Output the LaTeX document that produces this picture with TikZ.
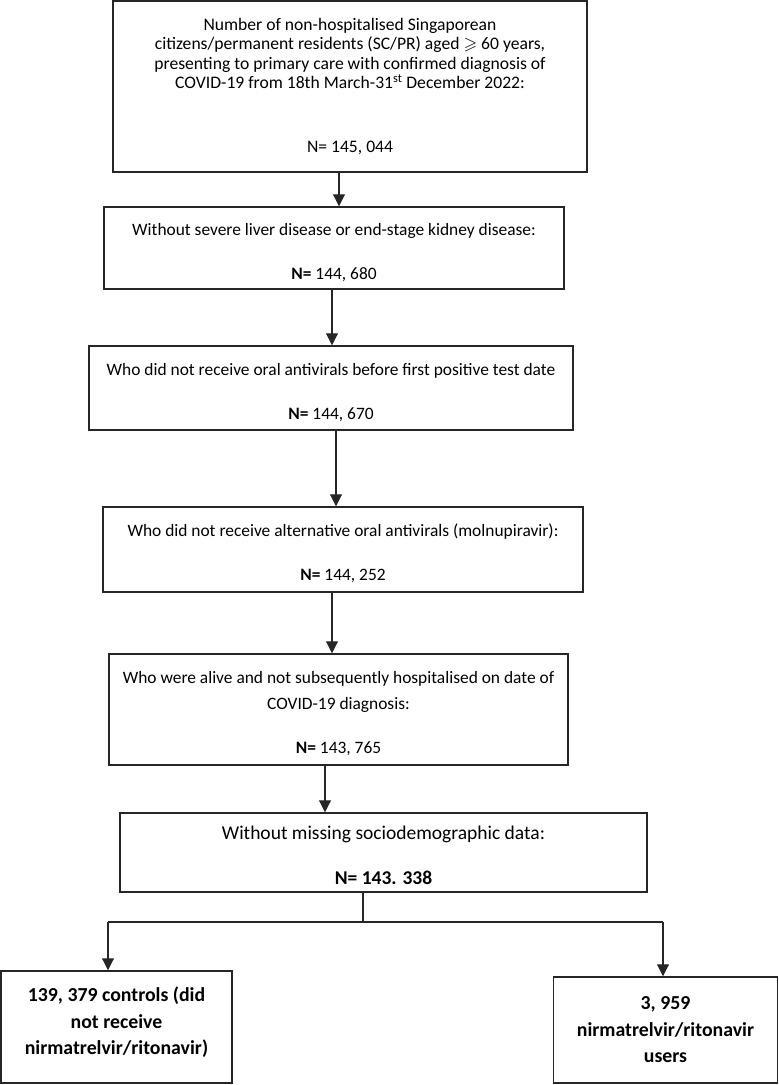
\documentclass[tikz,border=0pt]{standalone}
\usepackage{amssymb}
\usepackage{fontspec}
\setmainfont{Carlito}
\usetikzlibrary{arrows.meta}

\begin{document}
\begin{tikzpicture}[x=1pt,y=-1pt,
        box/.style = {draw=black!85,line width=1.5pt,inner sep=0pt,align=center,
                      font=\fontsize{17.4}{18.5}\selectfont},
        endbox/.style = {box,font=\bfseries\fontsize{19.8}{26.5}\selectfont},
        arrow/.style = {line width=1.1pt,draw=black!85,-{Triangle[width=12pt,length=12pt]}}]
                \useasboundingbox (0,0) rectangle (779,1085);

                \node[box,minimum width=474pt,minimum height=171pt,
                      font=\fontsize{17.6}{19.6}\selectfont] (n1) at (350,86.5)
                    {Number of non-hospitalised Singaporean\\
                     citizens/permanent residents (SC/PR) aged \smash{$\geqslant$} 60 years,\\
                     presenting to primary care with confirmed diagnosis of\\
                     COVID-19 from 18th March-31\textsuperscript{st} December 2022:\\[44.5pt]
                     N= 145, 044};
                \node[box,minimum width=460pt,minimum height=82pt] (n2) at (334,248)
                    {\rule{0pt}{21pt}Without severe liver disease or end-stage kidney disease:\\[25.5pt]
                     \textbf{N=} 144, 680};
                \node[box,minimum width=484pt,minimum height=84pt] (n3) at (331,388)
                    {\rule{0pt}{21pt}Who did not receive oral antivirals before first positive test date\\[25.5pt]
                     \textbf{N=} 144, 670};
                \node[box,minimum width=480pt,minimum height=85pt] (n4) at (343,549.5)
                    {\rule{0pt}{21pt}Who did not receive alternative oral antivirals (molnupiravir):\\[25.5pt]
                     \textbf{N=} 144, 252};
                \node[box,minimum width=459pt,minimum height=111pt] (n5) at (338.5,709.5)
                    {\rule{0pt}{21pt}Who were alive and not subsequently hospitalised on date of\\[7.5pt]
                     COVID-19 diagnosis:\\[25.5pt]
                     \textbf{N=} 143, 765};
                \node[box,minimum width=527pt,minimum height=79pt,
                      font=\fontsize{19.5}{18.5}\selectfont] (n6) at (383.5,852.5)
                    {\rule{0pt}{19.5pt}Without missing sociodemographic data:\\[26.5pt]
                     \textbf{N= 143. 338}};
                \node[endbox,minimum width=231pt,minimum height=112pt] (ctrl) at (116.5,1027)
                    {139, 379 controls (did\\ not receive\\
                     nirmatrelvir/ritonavir)\rule[-12pt]{0pt}{0pt}};
                \node[endbox,minimum width=224pt,minimum height=106pt] (users) at (665.5,1030)
                    {3, 959\\ nirmatrelvir/ritonavir\\ users};

                \draw[arrow] (n1.south -| 339,0) -- (n2.north -| 339,0);
                \draw[arrow] (n2.south -| 332,0) -- (n3.north -| 332,0);
                \draw[arrow] (n3.south -| 336,0) -- (n4.north -| 336,0);
                \draw[arrow] (n4.south -| 332,0) -- (n5.north -| 332,0);
                \draw[arrow] (n5.south -| 325,0) -- (n6.north -| 325,0);

                \coordinate (split) at (363,922);
                \coordinate (lft) at (108,922);
                \coordinate (rgt) at (663,922);
                \draw[line width=1.1pt,draw=black!85] (n6.south -| split) -- (split);
                \draw[line width=1.1pt,draw=black!85] (lft) -- (rgt);
                \draw[arrow] (lft) -- (ctrl.north -| lft);
                \draw[arrow] (rgt) -- (users.north -| rgt);
            \end{tikzpicture}
\end{document}
